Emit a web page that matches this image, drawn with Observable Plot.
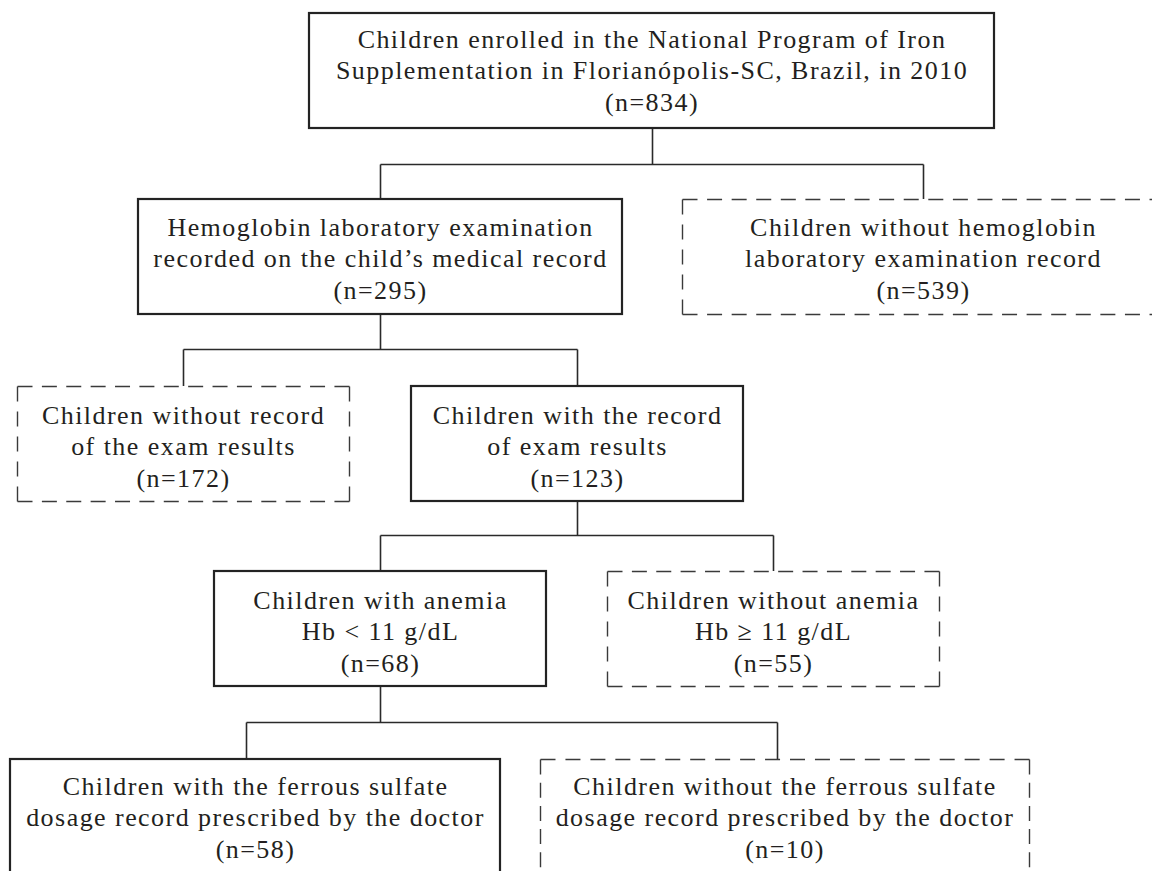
<!DOCTYPE html>
<html>
<head>
<meta charset="utf-8">
<script src="https://cdn.jsdelivr.net/npm/d3@7"></script>
<script src="https://cdn.jsdelivr.net/npm/@observablehq/plot@0.6"></script>
<style>
  html, body { margin: 0; padding: 0; background: #fff; overflow: hidden; }
  #chart svg { display: block; overflow: hidden; }
</style>
</head>
<body>
<div id="chart"></div>
<script>
// ---- Flowchart content ----
const nodeIds = ["enrolled", "hbExam", "noHbExam", "noResult", "withResult", "anemia", "noAnemia", "withDose", "noDose"];
const nodeText = [
  "Children enrolled in the National Program of Iron\nSupplementation in Florianópolis-SC, Brazil, in 2010",
  "Hemoglobin laboratory examination\nrecorded on the child’s medical record",
  "Children without hemoglobin\nlaboratory examination record",
  "Children without record\nof the exam results",
  "Children with the record\nof exam results",
  "Children with anemia\nHb < 11 g/dL",
  "Children without anemia\nHb ≥ 11 g/dL",
  "Children with the ferrous sulfate\ndosage record prescribed by the doctor",
  "Children without the ferrous sulfate\ndosage record prescribed by the doctor"
];
const nodeCounts = [834, 295, 539, 172, 123, 68, 55, 58, 10];
const nodeIncluded = [true, true, false, false, true, true, false, true, false];
const nodeParent = [null, "enrolled", "enrolled", "hbExam", "hbExam", "withResult", "withResult", "anemia", "anemia"];

// ---- Layout (diagram units on the x / y scales) ----
const boxLeft   = [309, 138, 682,  17, 411, 214, 607,  10, 540];
const boxRight  = [994, 622, 1164, 349, 743, 546, 939, 500, 1029];
const boxTop    = [13, 199, 199, 386, 386, 571, 571, 759, 759];
const boxBottom = [128, 314, 314, 501, 501, 686, 686, 890, 890];
const textMidY  = [68.5, 256.5, 256.5, 444.5, 444.5, 629.5, 629.5, 815.5, 815.5];
const linkX     = [652, 380, 923, 183, 577, 380, 773, 246, 777];
const branchY   = {enrolled: 164, hbExam: 349, withResult: 535, anemia: 722};

const W = 1152, H = 871;
const DASH = 15, GAP = 10;

const nodes = nodeIds.map((id, i) => ({
  id,
  label: nodeText[i] + "\n(n=" + nodeCounts[i] + ")",
  included: nodeIncluded[i],
  parent: nodeParent[i],
  x1: boxLeft[i], x2: boxRight[i], y1: boxTop[i], y2: boxBottom[i],
  cx: (boxLeft[i] + boxRight[i]) / 2,
  cy: textMidY[i],
  lx: linkX[i]
}));
const byId = Object.fromEntries(nodes.map(d => [d.id, d]));

// connector segments
const segs = [];
for (const pid of Object.keys(branchY)) {
  const p = byId[pid];
  const by = branchY[pid];
  const kids = nodes.filter(d => d.parent === pid);
  segs.push({x1: p.lx, y1: p.y2, x2: p.lx, y2: by});
  segs.push({x1: d3.min(kids, d => d.lx), y1: by, x2: d3.max(kids, d => d.lx), y2: by});
  for (const k of kids) segs.push({x1: k.lx, y1: by, x2: k.lx, y2: k.y1});
}

// dashed box sides: each side starts and ends with a dash at the corners
const dashedMarks = [];
for (const d of nodes.filter(d => !d.included)) {
  const sides = [
    {x1: d.x1, y1: d.y1, x2: d.x2, y2: d.y1},
    {x1: d.x1, y1: d.y2, x2: d.x2, y2: d.y2},
    {x1: d.x1, y1: d.y1, x2: d.x1, y2: d.y2},
    {x1: d.x2, y1: d.y1, x2: d.x2, y2: d.y2}
  ];
  for (const s of sides) {
    const L = Math.hypot(s.x2 - s.x1, s.y2 - s.y1);
    const n = Math.max(2, Math.round((L + GAP) / (DASH + GAP)));
    const g = (L - n * DASH) / (n - 1);
    dashedMarks.push(Plot.link([s], {x1: "x1", y1: "y1", x2: "x2", y2: "y2", stroke: "#3a3a3a",
      strokeWidth: 1.4, strokeDasharray: `${DASH},${g.toFixed(2)}`, strokeLinecap: "butt", clip: true}));
  }
}

const chart = Plot.plot({
  width: W,
  height: H,
  margin: 0,
  x: {domain: [0, W], axis: null},
  y: {domain: [0, H], reverse: true, axis: null},
  style: {background: "#fff", letterSpacing: "1.45px"},
  marks: [
    Plot.link(segs, {x1: "x1", y1: "y1", x2: "x2", y2: "y2", stroke: "#2a2a2a", strokeWidth: 1.6, clip: true}),
    Plot.rect(nodes.filter(d => d.included), {x1: "x1", x2: "x2", y1: "y1", y2: "y2", fill: "white", stroke: "#232323", strokeWidth: 2.2, clip: true}),
    Plot.rect(nodes.filter(d => !d.included), {x1: "x1", x2: "x2", y1: "y1", y2: "y2", fill: "white", clip: true}),
    ...dashedMarks,
    Plot.text(nodes, {x: "cx", y: "cy", text: "label", fontSize: 26, lineHeight: 1.21, fill: "#231f20",
      fontFamily: "'Liberation Serif', serif", textAnchor: "middle", lineAnchor: "middle"})
  ]
});
document.getElementById("chart").appendChild(chart);
</script>
</body>
</html>
